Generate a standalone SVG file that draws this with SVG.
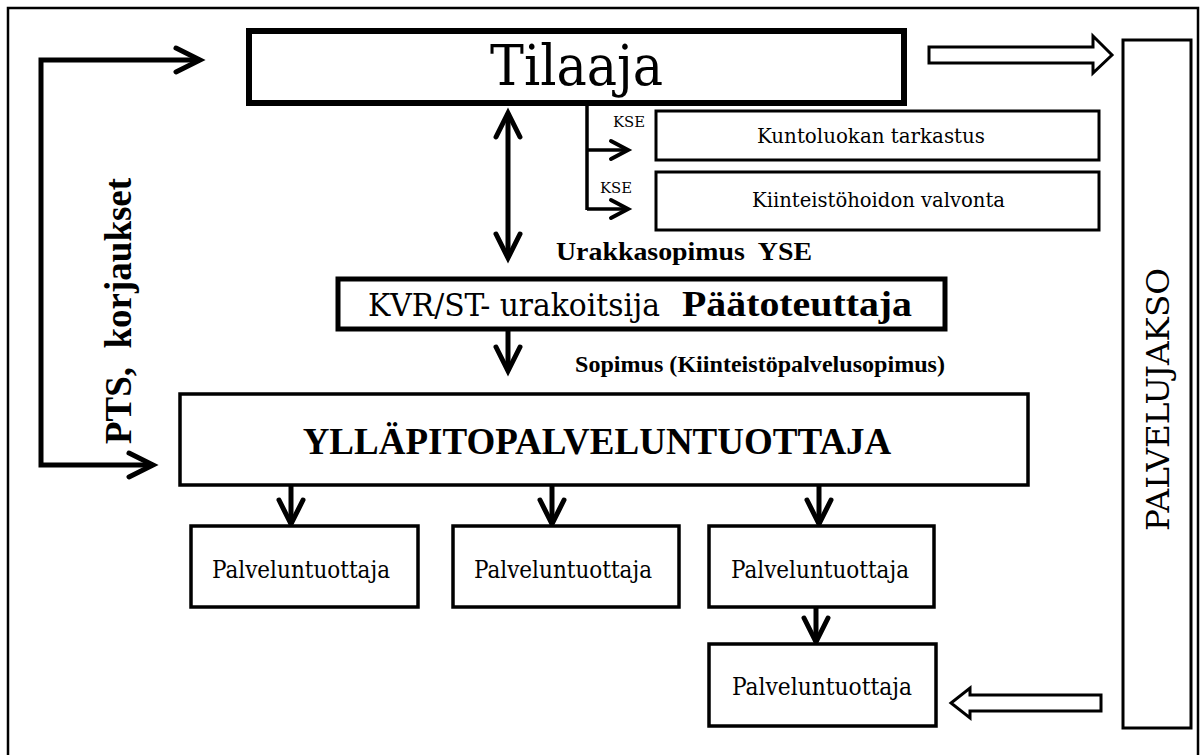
<svg xmlns="http://www.w3.org/2000/svg" width="1200" height="755" viewBox="0 0 1200 755">
  <style>
    text { fill: #000; }
    .r { font-family: 'DejaVu Serif Condensed', 'DejaVu Serif', serif; font-stretch: condensed; font-weight: normal; }
    .b { font-family: 'Liberation Serif', 'Times New Roman', serif; font-weight: bold; }
    .box { fill: #fff; stroke: #000; }
    .conn { fill: none; stroke: #000; stroke-width: 5; }
    .thin { fill: none; stroke: #000; stroke-width: 3.5; }
    .hollow { fill: #fff; stroke: #000; stroke-width: 3; stroke-linejoin: miter; }
  </style>
  <defs>
    <marker id="chev" markerUnits="userSpaceOnUse" viewBox="-30 -16 34 32" markerWidth="34" markerHeight="32" refX="0" refY="0" orient="auto-start-reverse" overflow="visible">
      <path d="M-24,-12 L0,0 L-24,12" fill="none" stroke="#000" stroke-width="5" stroke-linecap="round" stroke-linejoin="miter"/>
    </marker>
    <marker id="chevS" markerUnits="userSpaceOnUse" viewBox="-22 -12 26 24" markerWidth="26" markerHeight="24" refX="0" refY="0" orient="auto" overflow="visible">
      <path d="M-17,-9 L0,0 L-17,9" fill="none" stroke="#000" stroke-width="4" stroke-linecap="round"/>
    </marker>
  </defs>

  <rect width="1200" height="755" fill="#fff"/>
  <!-- outer frame -->
  <rect x="8" y="8" width="1190" height="770" fill="none" stroke="#000" stroke-width="2.5"/>

  <!-- connectors -->
  <g id="connectors">
    <path class="conn" d="M200,60 H41 V465 H153" marker-start="url(#chev)" marker-end="url(#chev)"/>
    <line class="conn" x1="508" y1="113" x2="508" y2="258" marker-start="url(#chev)" marker-end="url(#chev)"/>
    <path class="thin" d="M587,100 V210"/>
    <line class="thin" x1="587" y1="150" x2="628" y2="150" marker-end="url(#chevS)"/>
    <line class="thin" x1="587" y1="209" x2="628" y2="209" marker-end="url(#chevS)"/>
    <line class="conn" x1="508" y1="330" x2="508" y2="371" marker-end="url(#chev)"/>
    <line class="conn" x1="291" y1="486" x2="291" y2="524" marker-end="url(#chev)"/>
    <line class="conn" x1="552" y1="486" x2="552" y2="524" marker-end="url(#chev)"/>
    <line class="conn" x1="819" y1="486" x2="819" y2="524" marker-end="url(#chev)"/>
    <line class="conn" x1="816" y1="608" x2="816" y2="642" marker-end="url(#chev)"/>
    <!-- hollow block arrows -->
    <path class="hollow" d="M929,47 H1093 V36 L1112,55 L1093,73 V63 H929 Z"/>
    <path class="hollow" d="M1101,695 H970 V688 L951,703 L970,718 V711 H1101 Z"/>
  </g>

  <g id="tilaaja">
    <rect class="box" x="249" y="31" width="655" height="72" stroke-width="6"/>
    <text class="r" x="490" y="85" font-size="56" textLength="173" lengthAdjust="spacingAndGlyphs">Tilaaja</text>
  </g>

  <g id="kse-labels">
    <text class="r" x="613" y="127" font-size="15" textLength="32" lengthAdjust="spacingAndGlyphs">KSE</text>
    <text class="r" x="600" y="193" font-size="15" textLength="32" lengthAdjust="spacingAndGlyphs">KSE</text>
  </g>

  <g id="kuntoluokka">
    <rect class="box" x="656" y="111" width="443" height="49" stroke-width="3"/>
    <text class="r" x="757" y="143" font-size="20" textLength="228" lengthAdjust="spacingAndGlyphs">Kuntoluokan tarkastus</text>
  </g>

  <g id="kiinteistohoito">
    <rect class="box" x="656" y="172" width="443" height="58" stroke-width="3"/>
    <text class="r" x="752" y="207" font-size="20" textLength="253" lengthAdjust="spacingAndGlyphs">Kiinteistöhoidon valvonta</text>
  </g>

  <g id="urakkasopimus">
    <text class="b" x="556" y="260" font-size="26" textLength="256" lengthAdjust="spacingAndGlyphs" xml:space="preserve">Urakkasopimus  YSE</text>
  </g>

  <g id="paatoteuttaja">
    <rect class="box" x="338" y="279" width="607" height="50" stroke-width="5"/>
    <text class="r" x="368" y="316" font-size="32" textLength="292" lengthAdjust="spacingAndGlyphs">KVR/ST- urakoitsija</text>
    <text class="b" x="682" y="316" font-size="36" textLength="230" lengthAdjust="spacingAndGlyphs">Päätoteuttaja</text>
  </g>

  <g id="sopimus">
    <text class="b" x="575" y="372" font-size="23" textLength="370" lengthAdjust="spacingAndGlyphs">Sopimus (Kiinteistöpalvelusopimus)</text>
  </g>

  <g id="yllapito">
    <rect class="box" x="180" y="394" width="848" height="91" stroke-width="3.5"/>
    <text class="b" x="597" y="454" font-size="37" text-anchor="middle">YLLÄPITOPALVELUNTUOTTAJA</text>
  </g>

  <g id="palveluntuottaja-1">
    <rect class="box" x="191" y="526" width="227" height="81" stroke-width="3.5"/>
    <text class="r" x="212" y="578" font-size="24" textLength="178" lengthAdjust="spacingAndGlyphs">Palveluntuottaja</text>
  </g>
  <g id="palveluntuottaja-2">
    <rect class="box" x="453" y="526" width="226" height="81" stroke-width="3.5"/>
    <text class="r" x="474" y="578" font-size="24" textLength="178" lengthAdjust="spacingAndGlyphs">Palveluntuottaja</text>
  </g>
  <g id="palveluntuottaja-3">
    <rect class="box" x="709" y="526" width="225" height="81" stroke-width="3.5"/>
    <text class="r" x="731" y="578" font-size="24" textLength="178" lengthAdjust="spacingAndGlyphs">Palveluntuottaja</text>
  </g>
  <g id="palveluntuottaja-4">
    <rect class="box" x="709" y="644" width="227" height="82" stroke-width="3.5"/>
    <text class="r" x="732" y="695" font-size="24" textLength="180" lengthAdjust="spacingAndGlyphs">Palveluntuottaja</text>
  </g>

  <g id="palvelujakso">
    <rect class="box" x="1123" y="40" width="68" height="688" stroke-width="3"/>
    <text class="r" transform="translate(1169,531) rotate(-90)" font-size="31" textLength="263" lengthAdjust="spacingAndGlyphs">PALVELUJAKSO</text>
  </g>

  <g id="pts-label">
    <text class="b" transform="translate(131,311) rotate(-90)" font-size="37" text-anchor="middle" xml:space="preserve">PTS,  korjaukset</text>
  </g>
</svg>
